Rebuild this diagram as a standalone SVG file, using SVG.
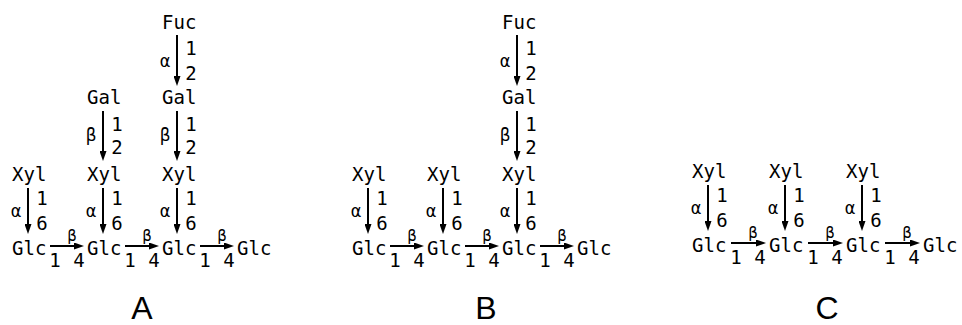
<svg xmlns="http://www.w3.org/2000/svg" width="962" height="325" viewBox="0 0 962 325">
  <style>
    .s { font-family: "DejaVu Sans Mono", "Liberation Mono", monospace; font-size: 19px; fill: #000; }
    .n { font-family: "DejaVu Sans Mono", "Liberation Mono", monospace; font-size: 19px; fill: #000; text-anchor: middle; }
    .a { font-family: "DejaVu Sans Mono", "Liberation Mono", monospace; font-size: 17px; fill: #000; text-anchor: middle; }
    .b { font-family: "DejaVu Sans Mono", "Liberation Mono", monospace; font-size: 17px; fill: #000; text-anchor: middle; }
    .h { font-family: "DejaVu Sans Mono", "Liberation Mono", monospace; font-size: 15px; fill: #000; text-anchor: middle; }
    .p { font-family: "Liberation Sans", Arial, sans-serif; font-size: 32px; fill: #000; text-anchor: middle; }
    .e { stroke: #000; stroke-width: 2; fill: none; marker-end: url(#head); }
  </style>
  <defs>
    <marker id="head" markerUnits="userSpaceOnUse" markerWidth="10" markerHeight="7" refX="6" refY="3.5" orient="auto">
      <path d="M0,0 L10,3.5 L0,7 Z" fill="#000"/>
    </marker>
  </defs>

  <!-- Structure A -->
  <g id="A-fuc"><text class="s" x="162" y="29">Fuc</text></g>
  <g id="A-gal1"><text class="s" x="87" y="104">Gal</text></g>
  <g id="A-gal2"><text class="s" x="162" y="104">Gal</text></g>
  <g id="A-xyl1"><text class="s" x="12" y="181">Xyl</text></g>
  <g id="A-xyl2"><text class="s" x="87" y="181">Xyl</text></g>
  <g id="A-xyl3"><text class="s" x="162" y="181">Xyl</text></g>
  <g id="A-glc1"><text class="s" x="12" y="255">Glc</text></g>
  <g id="A-glc2"><text class="s" x="87" y="255">Glc</text></g>
  <g id="A-glc3"><text class="s" x="162" y="255">Glc</text></g>
  <g id="A-glc4"><text class="s" x="237" y="255">Glc</text></g>
  <g id="A-label"><text class="p" x="142" y="319">A</text></g>

  <!-- Structure B -->
  <g id="B-fuc"><text class="s" x="502" y="29">Fuc</text></g>
  <g id="B-gal"><text class="s" x="502" y="104">Gal</text></g>
  <g id="B-xyl1"><text class="s" x="352" y="181">Xyl</text></g>
  <g id="B-xyl2"><text class="s" x="427" y="181">Xyl</text></g>
  <g id="B-xyl3"><text class="s" x="502" y="181">Xyl</text></g>
  <g id="B-glc1"><text class="s" x="352" y="255">Glc</text></g>
  <g id="B-glc2"><text class="s" x="427" y="255">Glc</text></g>
  <g id="B-glc3"><text class="s" x="502" y="255">Glc</text></g>
  <g id="B-glc4"><text class="s" x="577" y="255">Glc</text></g>
  <g id="B-label"><text class="p" x="486" y="319">B</text></g>

  <!-- Structure C -->
  <g id="C-xyl1"><text class="s" x="692" y="178">Xyl</text></g>
  <g id="C-xyl2"><text class="s" x="769" y="178">Xyl</text></g>
  <g id="C-xyl3"><text class="s" x="846" y="178">Xyl</text></g>
  <g id="C-glc1"><text class="s" x="692" y="252">Glc</text></g>
  <g id="C-glc2"><text class="s" x="769" y="252">Glc</text></g>
  <g id="C-glc3"><text class="s" x="846" y="252">Glc</text></g>
  <g id="C-glc4"><text class="s" x="923" y="252">Glc</text></g>
  <g id="C-label"><text class="p" x="827" y="319">C</text></g>

  <!-- Glycosidic linkages -->
  <g id="connectors">
    <!-- A: Fuc α1-2 Gal -->
    <line class="e" x1="177" y1="35" x2="177" y2="82"/>
    <text class="a" x="165" y="67">α</text><text class="n" x="191" y="55">1</text><text class="n" x="191" y="80">2</text>
    <!-- A: Gal β1-2 Xyl -->
    <line class="e" x1="103" y1="111" x2="103" y2="157"/>
    <text class="b" x="91" y="141">β</text><text class="n" x="117" y="131">1</text><text class="n" x="117" y="154">2</text>
    <line class="e" x1="177" y1="111" x2="177" y2="157"/>
    <text class="b" x="165" y="141">β</text><text class="n" x="191" y="131">1</text><text class="n" x="191" y="154">2</text>
    <!-- A: Xyl α1-6 Glc -->
    <line class="e" x1="28" y1="188" x2="28" y2="230"/>
    <text class="a" x="16" y="217">α</text><text class="n" x="42" y="205">1</text><text class="n" x="42" y="230">6</text>
    <line class="e" x1="103" y1="188" x2="103" y2="230"/>
    <text class="a" x="91" y="217">α</text><text class="n" x="117" y="205">1</text><text class="n" x="117" y="230">6</text>
    <line class="e" x1="177" y1="188" x2="177" y2="230"/>
    <text class="a" x="165" y="217">α</text><text class="n" x="191" y="205">1</text><text class="n" x="191" y="230">6</text>
    <!-- A: Glc β1-4 Glc backbone -->
    <line class="e" x1="50" y1="246" x2="80" y2="246"/>
    <text class="h" x="72" y="241">β</text><text class="n" x="55" y="267">1</text><text class="n" x="79" y="267">4</text>
    <line class="e" x1="125" y1="246" x2="155" y2="246"/>
    <text class="h" x="147" y="241">β</text><text class="n" x="130" y="267">1</text><text class="n" x="154" y="267">4</text>
    <line class="e" x1="200" y1="246" x2="230" y2="246"/>
    <text class="h" x="222" y="241">β</text><text class="n" x="205" y="267">1</text><text class="n" x="229" y="267">4</text>

    <!-- B: Fuc α1-2 Gal β1-2 Xyl -->
    <line class="e" x1="517" y1="35" x2="517" y2="82"/>
    <text class="a" x="505" y="67">α</text><text class="n" x="531" y="55">1</text><text class="n" x="531" y="80">2</text>
    <line class="e" x1="517" y1="111" x2="517" y2="157"/>
    <text class="b" x="505" y="141">β</text><text class="n" x="531" y="131">1</text><text class="n" x="531" y="154">2</text>
    <!-- B: Xyl α1-6 Glc -->
    <line class="e" x1="368" y1="188" x2="368" y2="230"/>
    <text class="a" x="356" y="217">α</text><text class="n" x="382" y="205">1</text><text class="n" x="382" y="230">6</text>
    <line class="e" x1="443" y1="188" x2="443" y2="230"/>
    <text class="a" x="431" y="217">α</text><text class="n" x="457" y="205">1</text><text class="n" x="457" y="230">6</text>
    <line class="e" x1="517" y1="188" x2="517" y2="230"/>
    <text class="a" x="505" y="217">α</text><text class="n" x="531" y="205">1</text><text class="n" x="531" y="230">6</text>
    <!-- B: Glc β1-4 Glc backbone -->
    <line class="e" x1="390" y1="246" x2="420" y2="246"/>
    <text class="h" x="412" y="241">β</text><text class="n" x="395" y="267">1</text><text class="n" x="419" y="267">4</text>
    <line class="e" x1="465" y1="246" x2="495" y2="246"/>
    <text class="h" x="487" y="241">β</text><text class="n" x="470" y="267">1</text><text class="n" x="494" y="267">4</text>
    <line class="e" x1="540" y1="246" x2="570" y2="246"/>
    <text class="h" x="562" y="241">β</text><text class="n" x="545" y="267">1</text><text class="n" x="569" y="267">4</text>

    <!-- C: Xyl α1-6 Glc -->
    <line class="e" x1="708" y1="185" x2="708" y2="227"/>
    <text class="a" x="696" y="214">α</text><text class="n" x="722" y="202">1</text><text class="n" x="722" y="227">6</text>
    <line class="e" x1="785" y1="185" x2="785" y2="227"/>
    <text class="a" x="773" y="214">α</text><text class="n" x="799" y="202">1</text><text class="n" x="799" y="227">6</text>
    <line class="e" x1="862" y1="185" x2="862" y2="227"/>
    <text class="a" x="850" y="214">α</text><text class="n" x="876" y="202">1</text><text class="n" x="876" y="227">6</text>
    <!-- C: Glc β1-4 Glc backbone -->
    <line class="e" x1="731" y1="243" x2="762" y2="243"/>
    <text class="h" x="753" y="238">β</text><text class="n" x="736" y="264">1</text><text class="n" x="760" y="264">4</text>
    <line class="e" x1="808" y1="243" x2="839" y2="243"/>
    <text class="h" x="830" y="238">β</text><text class="n" x="813" y="264">1</text><text class="n" x="837" y="264">4</text>
    <line class="e" x1="885" y1="243" x2="916" y2="243"/>
    <text class="h" x="907" y="238">β</text><text class="n" x="890" y="264">1</text><text class="n" x="914" y="264">4</text>
  </g>
</svg>
